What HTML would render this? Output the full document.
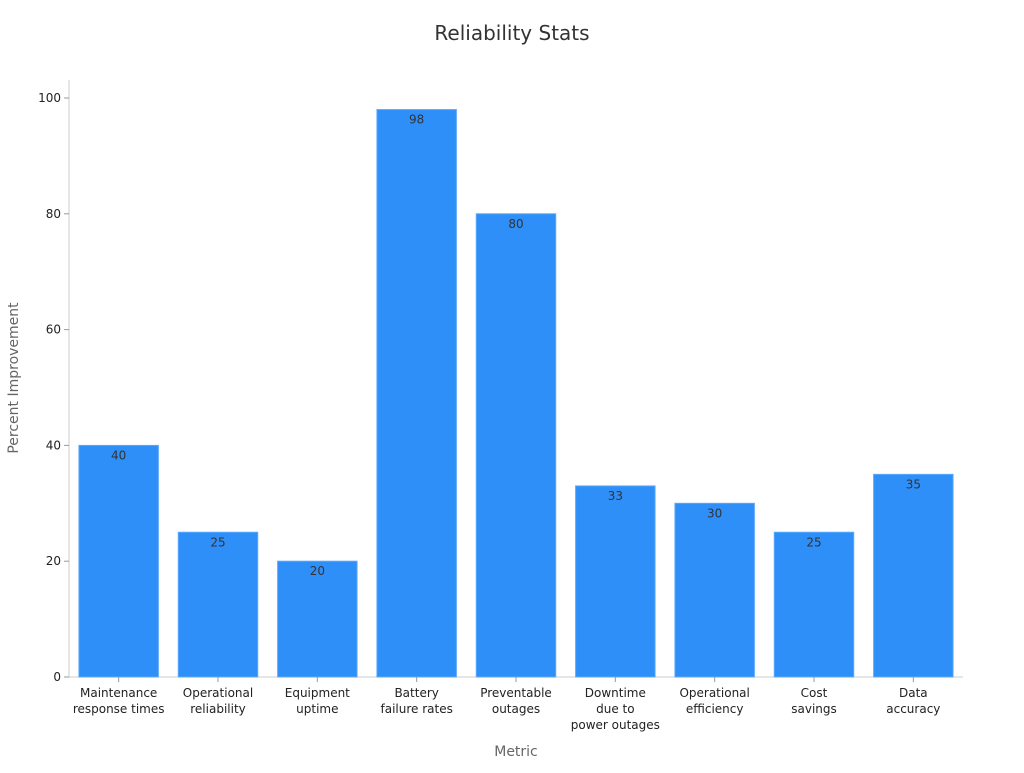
<!DOCTYPE html>
<html><head><meta charset="utf-8"><style>
body{margin:0;background:#fff;font-family:"Liberation Sans","DejaVu Sans",sans-serif}
svg text{font-family:"DejaVu Sans","Liberation Sans",sans-serif}
</style></head><body>
<svg id="chart" width="1024" height="768" xmlns="http://www.w3.org/2000/svg">
<text x="512" y="40" text-anchor="middle" font-size="20" fill="#333">Reliability Stats</text>
<text x="516" y="756" text-anchor="middle" font-size="14" fill="#666">Metric</text>
<text transform="translate(18,378) rotate(-90)" text-anchor="middle" font-size="14" fill="#666">Percent Improvement</text>
<g id="plot"></g>
</svg>
<script>
const categories=[["Maintenance","response times"],["Operational","reliability"],["Equipment","uptime"],["Battery","failure rates"],["Preventable","outages"],["Downtime","due to","power outages"],["Operational","efficiency"],["Cost","savings"],["Data","accuracy"]];
const values=[40,25,20,98,80,33,30,25,35];
const yTicks=[0,20,40,60,80,100];
const X0=69,X1=963,Y0=677,Ymax=98;
const band=(X1-X0)/categories.length;
function x(i){return X0+band*i;}
function y(v){return Y0-(Y0-Ymax)*v/100;}
const g=document.getElementById('plot');
const NS="http://www.w3.org/2000/svg";
function mk(t,a){const e=document.createElementNS(NS,t);for(const k in a)e.setAttribute(k,a[k]);g.appendChild(e);return e;}
let ax=mk('line',{x1:X0,x2:X0,y1:80,y2:Y0,stroke:'#ccc'});


let bx=mk('line',{x1:X0,x2:X1,y1:Y0,y2:Y0,stroke:'#ccc'});


yTicks.forEach(t=>{
 const l=mk('line',{x1:X0-5,x2:X0,y1:y(t),y2:y(t),stroke:'#999'});
 
 
 const tx=mk('text',{x:X0-8,y:y(t)+4,'text-anchor':'end','font-size':12,fill:'#222'});
 tx.textContent=t;
 
 
});
values.forEach((v,i)=>{
 const w=band*0.8,bxp=x(i)+band*0.1;
 const r=mk('rect',{x:bxp,y:y(v),width:w,height:Y0-y(v),fill:'#2f8ff8',stroke:'#5aa8fa','stroke-width':1});
 
 
 const lb=mk('text',{x:x(i)+band/2,y:y(v)+14,'text-anchor':'middle','font-size':12,fill:'#333'});
 lb.textContent=v;
 
 
 const tk=mk('line',{x1:x(i)+band/2,x2:x(i)+band/2,y1:Y0,y2:Y0+5,stroke:'#999'});
 
 
 categories[i].forEach((s,j)=>{
  const c=mk('text',{x:x(i)+band/2,y:Y0+20+j*16,'text-anchor':'middle','font-size':12,fill:'#222'});
  c.textContent=s;
  
  
 });
});
</script>
</body></html>
